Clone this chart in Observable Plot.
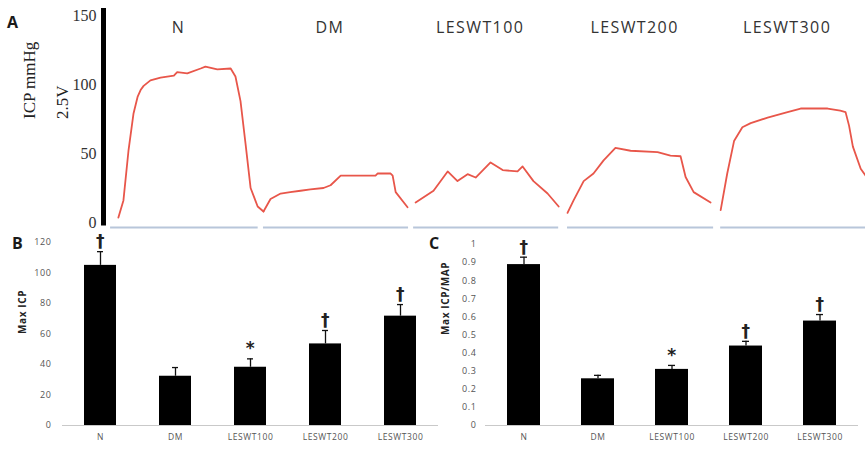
<!DOCTYPE html>
<html><head><meta charset="utf-8">
<script src="https://cdn.jsdelivr.net/npm/d3@7"></script>
<script src="https://cdn.jsdelivr.net/npm/@observablehq/plot@0.6"></script>
<style>
body{margin:0;background:#fff;}
#wrap{position:relative;width:865px;height:449px;overflow:hidden;background:#fff;}
.panel{position:absolute;}
.letter{position:absolute;font-family:"Open Sans",sans-serif;font-weight:700;font-size:16px;color:#1a1a1a;line-height:1;}
.small text{letter-spacing:0.6px;}
.grp{letter-spacing:1.4px;}
</style></head><body>
<div id="wrap">
  <div class="panel" id="pA" style="left:0;top:0"></div>
  <div class="panel small" id="pB" style="left:0;top:232px"></div>
  <div class="panel small" id="pC" style="left:430px;top:232px"></div>
  <div class="letter" style="left:7px;top:14px">A</div>
  <div class="letter" style="left:12px;top:235px">B</div>
  <div class="letter" style="left:429px;top:235px">C</div>
</div>
<script>
// ---------- data ----------
const groups = ["N", "DM", "LESWT100", "LESWT200", "LESWT300"];

// Panel A: ICP traces, [time (s), ICP (mmHg)]
const traceN = [[3.9,3.6],[5.9,16],[7.9,52],[9.9,79],[11.5,91],[12.7,96],[13.9,99],[16.6,103],[20.6,105],[25.9,106.5],[27.2,109],[31.2,108],[36.5,111.6],[38.4,113],[43.1,111],[48.4,111.6],[50.3,105.8],[52.3,88],[54.3,57],[56.3,25],[59.1,11.6],[61.4,8]];
const traceDM = [[61.4,8],[64.2,17],[68.2,21],[72,22],[76.1,23],[80,24],[85.2,25],[88,27],[92,34],[99.9,34],[105.8,34],[106.6,35.5],[111.8,35.5],[112.6,34],[113.8,22],[118.5,11]];
const trace100 = [[121.7,14.5],[128.8,23],[134.4,37],[138.3,30],[142.3,35],[145.5,32.6],[151.4,43.5],[156.2,38],[162.1,37],[164.1,40.6],[168.4,30],[174,21],[178.4,11.6]];
const trace200 = [[181.9,7],[184.3,16],[188.3,30],[192.2,35.5],[196.2,45],[200.9,54],[206.9,52],[217.6,51],[222.7,48.5],[226.7,48],[228.7,33],[231.9,22],[238.6,14.5]];
const trace300 = [[242.6,9],[245.2,35.5],[247.9,59],[251.2,69],[254.5,72],[261.2,76],[269.1,80],[274.3,82.6],[285,82.6],[290,81],[292.1,80],[293.5,70],[295,55],[298.1,39],[300,34]];
const traces = [traceN, traceDM, trace100, trace200, trace300];
// recording windows (s) for each group
const windows = [[0.8,59.3],[61.4,118.9],[120.9,178.4],[181.9,239.8],[242.6,300]];
const ticksA = [0, 50, 100, 150];

// Panel B: Max ICP
const maxICP = [105, 32.3, 38.2, 53.5, 71.7];
const maxICPsem = [9, 5.7, 5.5, 8.8, 7.6];
const ticksB = [0, 20, 40, 60, 80, 100, 120];

// Panel C: Max ICP/MAP
const ratio = [0.889, 0.258, 0.31, 0.439, 0.577];
const ratioSem = [0.041, 0.019, 0.022, 0.026, 0.036];
const ticksC = [0, 0.1, 0.2, 0.3, 0.4, 0.5, 0.6, 0.7, 0.8, 0.9, 1];

const signif = ["†", "", "*", "†", "†"];

// ---------- tables ----------
const traceRows = traces.flatMap((tr, i) => tr.map(([t, v]) => ({group: groups[i], t, v})));
const windowRows = windows.map(([s, e], i) => ({group: groups[i], s, e, mid: (s + e) / 2}));
const rowsB = groups.map((g, i) => ({g, v: maxICP[i], top: maxICP[i] + maxICPsem[i], s: signif[i]}));
const rowsC = groups.map((g, i) => ({g, v: ratio[i], top: ratio[i] + ratioSem[i], s: signif[i]}));

const serif = "Liberation Serif, Times New Roman, serif";
const sans = "Open Sans, sans-serif";
const xDomA = [-2, 300];

// ---------- Panel A ----------
const A = Plot.plot({
  width: 865, height: 232,
  marginLeft: 103, marginRight: 0, marginTop: 15, marginBottom: 10,
  style: {background: "transparent", overflow: "visible"},
  x: {domain: xDomA, axis: null},
  y: {domain: [0, 150], axis: null},
  marks: [
    Plot.axisY({ticks: ticksA, tickSize: 0, tickPadding: 7, fontSize: 16, fontFamily: serif, color: "#333", label: null}),
    Plot.ruleX([xDomA[0]], {y1: -2.5, y2: 155, stroke: "#000", strokeWidth: 5}),
    Plot.ruleY(windowRows, {x1: "s", x2: "e", y: () => 0, dy: 5, stroke: "#b8c6da", strokeWidth: 2}),
    Plot.line(traceRows, {x: "t", y: "v", z: "group", stroke: "#e8564a", strokeWidth: 1.8}),
    Plot.text(windowRows, {x: "mid", text: "group", frameAnchor: "top", dx: -6, dy: 6, fontSize: 16, fontFamily: sans, fontWeight: 500, fill: "#333", className: "grp"}),
    Plot.text(["ICP mmHg"], {frameAnchor: "left", dx: -74, rotate: -90, fontSize: 17, fontFamily: serif, fill: "#222"}),
    Plot.text(["2.5V"], {frameAnchor: "left", dx: -41, rotate: -90, fontSize: 17, fontFamily: serif, fill: "#222"})
  ]
});
document.getElementById("pA").append(A);

// ---------- bar panels ----------
function barPanel(rows, opts) {
  return Plot.plot({
    width: opts.width, height: 217,
    marginLeft: opts.ml, marginRight: opts.mr, marginTop: opts.mt, marginBottom: 24,
    style: {background: "transparent", overflow: "visible"},
    x: {domain: groups, paddingInner: opts.pi, paddingOuter: 0.29, axis: null},
    y: {domain: opts.domain, axis: null},
    marks: [
      Plot.axisY({ticks: opts.ticks, tickFormat: opts.fmt, tickSize: 0, tickPadding: opts.tp, fontSize: 9, fontFamily: sans, fill: "#555", stroke: "#c9c9c9", line: true, label: null}),
      Plot.axisX({tickSize: 0, tickPadding: 8, fontSize: 8.5, fontFamily: sans, fill: "#555", label: null}),
      Plot.ruleY([opts.domain[0]], {stroke: "#c9c9c9"}),
      Plot.ruleX(rows, {x: "g", y1: "v", y2: "top", stroke: "#111", strokeWidth: 1.3}),
      Plot.tickY(rows, {x: "g", y: "top", stroke: "#111", strokeWidth: 1.3, insetLeft: 13, insetRight: 13}),
      Plot.barY(rows, {x: "g", y: "v", fill: "#000"}),
      Plot.text(rows, {x: "g", y: "top", text: "s", dy: -10, fontSize: 17, fontWeight: "bold", fontFamily: "DejaVu Sans, sans-serif", fill: "#222"}),
      Plot.text([opts.label], {frameAnchor: "left", dx: -40, rotate: -90, fontSize: 10, fontWeight: "bold", fontFamily: sans, fill: "#222"})
    ]
  });
}

const B = barPanel(rowsB, {width: 440, ml: 62, mr: 2, mt: 10, pi: 0.57, domain: [0, 120], ticks: ticksB, fmt: d => String(d), tp: 11, label: "Max ICP"});
document.getElementById("pB").append(B);

const C = barPanel(rowsC, {width: 435, ml: 55, mr: 7, mt: 12, pi: 0.556, domain: [0, 1], ticks: ticksC, fmt: d => String(+d.toFixed(1)), tp: 9, label: "Max ICP/MAP"});
document.getElementById("pC").append(C);
</script>
</body></html>
